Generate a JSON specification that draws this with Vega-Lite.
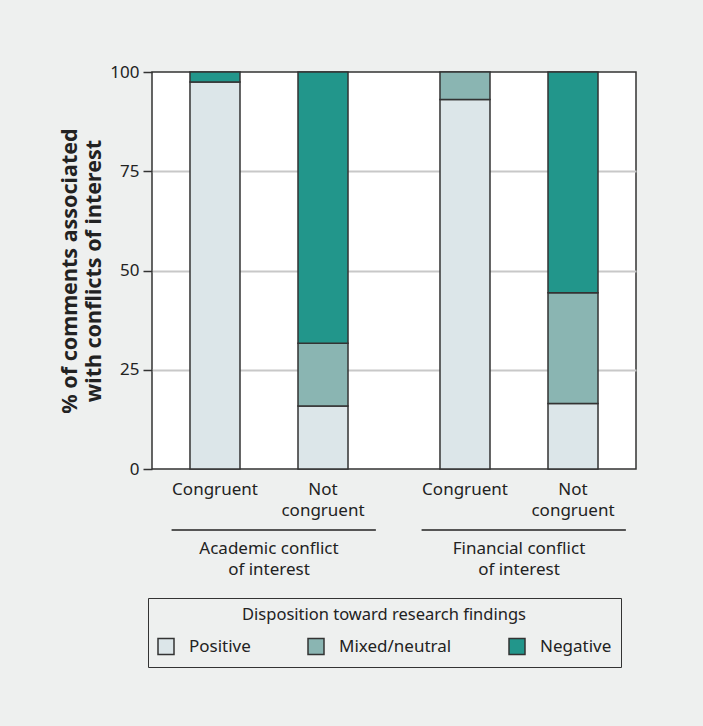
{
  "$schema": "https://vega.github.io/schema/vega-lite/v6.json",
  "width": 484,
  "height": 397,
  "autosize": {"type": "none"},
  "padding": {"left": 152, "top": 72, "right": 67, "bottom": 257},
  "background": "#eef0ef",
  "config": {
    "font": "Noto Sans",
    "view": {"fill": "white", "stroke": "#333333", "strokeWidth": 1.5}
  },
  "layer": [
    {
      "data": {
        "values": [
          {"group": "Academic conflict of interest", "cong": "Congruent", "disp": "Positive", "ord": 1, "value": 97.5},
          {"group": "Academic conflict of interest", "cong": "Congruent", "disp": "Negative", "ord": 3, "value": 2.5},
          {"group": "Academic conflict of interest", "cong": "Not congruent", "disp": "Positive", "ord": 1, "value": 15.9},
          {"group": "Academic conflict of interest", "cong": "Not congruent", "disp": "Mixed/neutral", "ord": 2, "value": 15.8},
          {"group": "Academic conflict of interest", "cong": "Not congruent", "disp": "Negative", "ord": 3, "value": 68.3},
          {"group": "Financial conflict of interest", "cong": "Congruent", "disp": "Positive", "ord": 1, "value": 93.1},
          {"group": "Financial conflict of interest", "cong": "Congruent", "disp": "Mixed/neutral", "ord": 2, "value": 6.9},
          {"group": "Financial conflict of interest", "cong": "Not congruent", "disp": "Positive", "ord": 1, "value": 16.5},
          {"group": "Financial conflict of interest", "cong": "Not congruent", "disp": "Mixed/neutral", "ord": 2, "value": 27.9},
          {"group": "Financial conflict of interest", "cong": "Not congruent", "disp": "Negative", "ord": 3, "value": 55.6}
        ]
      },
      "mark": {"type": "bar", "stroke": "#333333", "strokeWidth": 1.5},
      "encoding": {
        "x": {
          "field": "group",
          "type": "nominal",
          "sort": ["Academic conflict of interest", "Financial conflict of interest"],
          "scale": {"paddingInner": 0.1, "paddingOuter": 0.018},
          "axis": {
            "title": null,
            "labelAngle": 0,
            "ticks": false,
            "tickSize": 0,
            "domain": false,
            "labelPadding": 71,
            "labelFontSize": 17,
            "labelLineHeight": 21,
            "labelColor": "#222222",
            "labelExpr": "[replace(datum.label, ' of interest', ''), 'of interest']"
          }
        },
        "xOffset": {
          "field": "cong",
          "type": "nominal",
          "sort": ["Congruent", "Not congruent"],
          "scale": {"paddingInner": 0.537, "paddingOuter": 0.31}
        },
        "y": {
          "field": "value",
          "type": "quantitative",
          "stack": "zero",
          "scale": {"domain": [0, 100], "nice": false},
          "axis": {
            "values": [0, 25, 50, 75, 100],
            "title": ["% of comments associated", "with conflicts of interest"],
            "titleFontSize": 21.5,
            "titleFontWeight": "bold",
            "titleColor": "#222222",
            "titleLineHeight": 24,
            "titlePadding": 4,
            "labelFontSize": 17,
            "labelColor": "#222222",
            "labelPadding": 4,
            "tickSize": 9,
            "tickWidth": 1.5,
            "tickColor": "#333333",
            "domain": false,
            "grid": true,
            "gridColor": "#c8c8c8",
            "gridWidth": 2,
            "gridOpacity": {"condition": {"test": "datum.value === 0 || datum.value === 100", "value": 0}, "value": 1}
          }
        },
        "color": {
          "field": "disp",
          "type": "nominal",
          "scale": {
            "domain": ["Positive", "Mixed/neutral", "Negative"],
            "range": ["#dce6e9", "#8ab5b2", "#22968b"]
          },
          "legend": {
            "orient": "none",
            "legendX": -4,
            "legendY": 526,
            "direction": "horizontal",
            "title": "Disposition toward research findings",
            "titleLimit": 600,
            "titleAnchor": "middle",
            "titleFontSize": 16.5,
            "titleFontWeight": "normal",
            "titleColor": "#222222",
            "titlePadding": 14,
            "labelFontSize": 17,
            "labelColor": "#222222",
            "labelOffset": 14,
            "columnPadding": 54,
            "symbolType": "square",
            "symbolSize": 256,
            "symbolStrokeColor": "#333333",
            "symbolStrokeWidth": 1.5,
            "symbolOpacity": 1,
            "padding": 9,
            "strokeColor": "#333333"
          }
        },
        "order": {"field": "ord", "type": "quantitative"}
      }
    },
    {
      "data": {
        "values": [
          {"group": "Academic conflict of interest", "cong": "Congruent", "label": ["Congruent"]},
          {"group": "Academic conflict of interest", "cong": "Not congruent", "label": ["Not", "congruent"]},
          {"group": "Financial conflict of interest", "cong": "Congruent", "label": ["Congruent"]},
          {"group": "Financial conflict of interest", "cong": "Not congruent", "label": ["Not", "congruent"]}
        ]
      },
      "mark": {"type": "text", "baseline": "top", "align": "center", "dy": 13, "fontSize": 17, "lineHeight": 21, "color": "#222222"},
      "encoding": {
        "x": {"field": "group", "type": "nominal"},
        "xOffset": {"field": "cong", "type": "nominal"},
        "y": {"datum": 0},
        "text": {"field": "label"}
      }
    },
    {
      "data": {
        "values": [
          {"group": "Academic conflict of interest"},
          {"group": "Financial conflict of interest"}
        ]
      },
      "mark": {"type": "rule", "stroke": "#222222", "strokeWidth": 1.5, "yOffset": 61},
      "encoding": {
        "x": {"field": "group", "type": "nominal", "bandPosition": 0.067},
        "x2": {"field": "group", "bandPosition": 0.975},
        "y": {"datum": 0}
      }
    }
  ]
}
